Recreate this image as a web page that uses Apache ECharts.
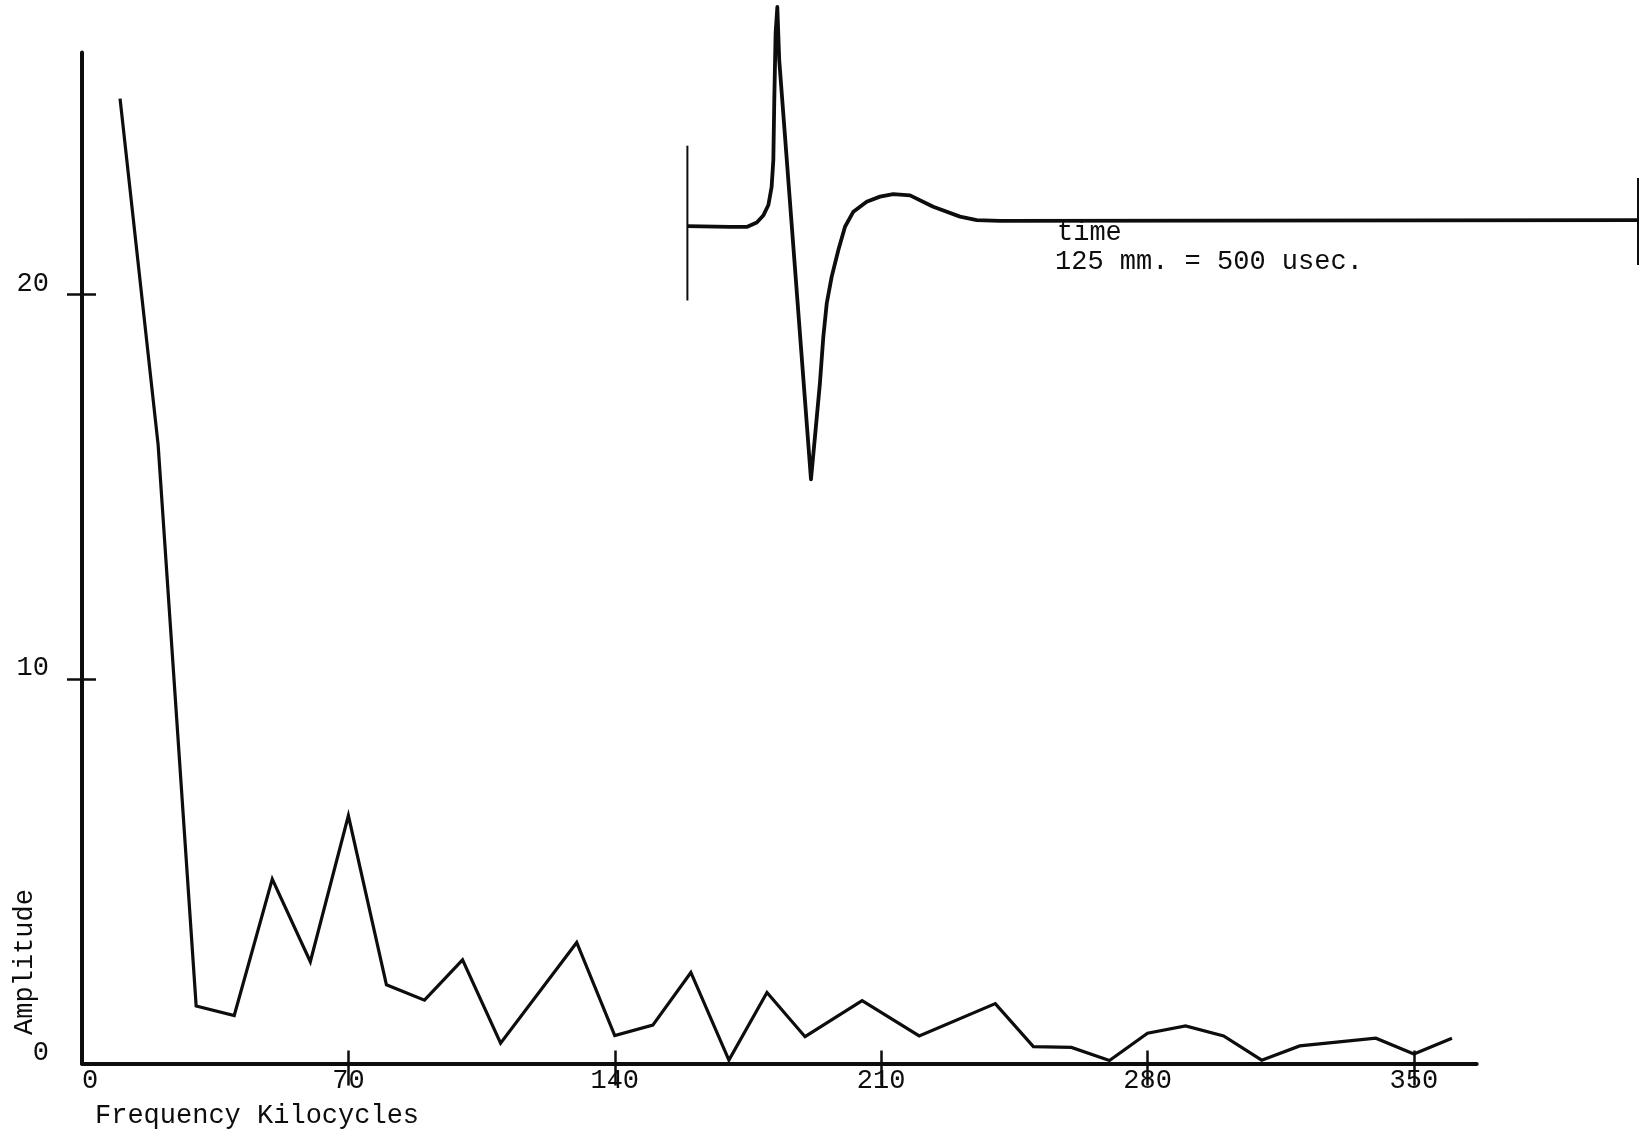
<!DOCTYPE html>
<html>
<head>
<meta charset="utf-8">
<script src="https://cdn.jsdelivr.net/npm/echarts@6/dist/echarts.min.js"></script>
<style>
html,body{margin:0;padding:0;background:#ffffff;}
#chart{width:1648px;height:1143px;}
</style>
</head>
<body>
<div id="chart"></div>
<script>
// Spectrum: frequency (kilocycles) vs amplitude
const freqKc = [10, 20, 30, 40, 50, 60, 70, 80, 90, 100, 110, 130, 140, 150, 160, 170, 180, 190, 205, 220, 240, 250, 260, 270, 280, 290, 300, 310, 320, 340, 350, 360];
const amplitude = [25.1, 16.1, 1.5, 1.25, 4.8, 2.65, 6.45, 2.05, 1.65, 2.7, 0.53, 3.15, 0.73, 1.0, 2.37, 0.09, 1.85, 0.7, 1.64, 0.72, 1.56, 0.44, 0.42, 0.08, 0.79, 0.98, 0.72, 0.09, 0.46, 0.66, 0.25, 0.66];

// Axis ticks / labels
const xTickValues = [70, 140, 210, 280, 350];
const xLabelValues = [0, 70, 140, 210, 280, 350];
const yTickValues = [10, 20];
const yLabelValues = [0, 10, 20];

// Inset: time-domain pulse (125 mm = 500 usec), amplitude in arbitrary units
const pulseTimeUs = [0, 22.4, 31.2, 36.5, 39.9, 42.6, 44.3, 45.2, 45.7, 46.4, 47.3, 48.3, 65.0, 67.1, 69.7, 71.5, 73.3, 75.9, 79.4, 82.9, 87.3, 94.3, 101.3, 108.3, 117.1, 129.3, 143.4, 152.2, 164.4, 500];
const pulseAmp = [-0.019, -0.023, -0.023, -0.002, 0.03, 0.079, 0.163, 0.288, 0.567, 0.879, 1.0, 0.753, -1.197, -0.999, -0.75, -0.533, -0.378, -0.254, -0.13, -0.022, 0.048, 0.094, 0.118, 0.13, 0.124, 0.071, 0.025, 0.009, 0.005, 0.009];

// Time-scale end markers of the inset (time, top, bottom)
const markerTimes = [0, 500];
const markerTops = [0.355, 0.205];
const markerBottoms = [-0.365, -0.2];

const FONT = 'Liberation Mono';
const INK = '#0d0d0d';

const chart = echarts.init(document.getElementById('chart'), null, {renderer: 'canvas'});

const spectrumData = freqKc.map((f, i) => [f, amplitude[i]]);
const pulseData = pulseTimeUs.map((t, i) => [t, pulseAmp[i]]);

const markerSeries = markerTimes.map((t, i) => ({
  type: 'line',
  xAxisIndex: 2,
  yAxisIndex: 2,
  data: [[t, markerTops[i]], [t, markerBottoms[i]]],
  symbol: 'none',
  clip: false,
  silent: true,
  lineStyle: {color: INK, width: 2}
}));

const option = {
  backgroundColor: '#ffffff',
  animation: false,
  grid: [
    {left: 82, right: 171.3, top: 52.5, bottom: 79.4, outerBoundsMode: 'none'},
    {left: 687.4, right: 10, top: 7, bottom: 663, outerBoundsMode: 'none'}
  ],
  xAxis: [
    {
      type: 'value', gridIndex: 0, position: 'bottom', min: 0, max: 366.5,
      axisLine: {show: true, onZero: false, lineStyle: {color: INK, width: 4}},
      axisTick: {show: true, inside: false, length: 22, customValues: xTickValues, lineStyle: {color: INK, width: 2.5}},
      axisLabel: {show: true, customValues: xLabelValues, margin: 4, fontFamily: FONT, fontSize: 27, color: INK, alignMinLabel: 'left'},
      splitLine: {show: false}
    },
    {
      type: 'value', gridIndex: 0, position: 'bottom', min: 0, max: 366.5,
      axisLine: {show: false, onZero: false},
      axisTick: {show: true, inside: true, length: 13, customValues: xTickValues, lineStyle: {color: INK, width: 2.5}},
      axisLabel: {show: false},
      splitLine: {show: false}
    },
    {type: 'value', gridIndex: 1, min: 0, max: 500, show: false}
  ],
  yAxis: [
    {
      type: 'value', gridIndex: 0, position: 'left', min: 0, max: 26.3,
      axisLine: {show: true, onZero: false, lineStyle: {color: INK, width: 4}},
      axisTick: {show: true, inside: false, length: 15, customValues: yTickValues, lineStyle: {color: INK, width: 2.5}},
      axisLabel: {show: true, customValues: yLabelValues, margin: 33, fontFamily: FONT, fontSize: 27, color: INK, verticalAlign: 'bottom', lineHeight: 22},
      splitLine: {show: false}
    },
    {
      type: 'value', gridIndex: 0, position: 'left', min: 0, max: 26.3,
      axisLine: {show: false, onZero: false},
      axisTick: {show: true, inside: true, length: 14, customValues: yTickValues, lineStyle: {color: INK, width: 2.5}},
      axisLabel: {show: false},
      splitLine: {show: false}
    },
    {type: 'value', gridIndex: 1, min: -1.2, max: 1.0, show: false}
  ],
  series: [
    {
      type: 'line', xAxisIndex: 0, yAxisIndex: 0,
      data: spectrumData,
      symbol: 'none', clip: false, silent: true,
      lineStyle: {color: INK, width: 3.2, join: 'miter'}
    },
    {
      type: 'line', xAxisIndex: 2, yAxisIndex: 2,
      data: pulseData,
      symbol: 'none', clip: false, silent: true,
      smooth: false,
      lineStyle: {color: INK, width: 3.8, join: 'round'}
    }
  ].concat(markerSeries),
  graphic: [
    {
      type: 'text', left: 1057, top: 219, silent: true,
      style: {text: 'time', fontFamily: FONT, fontSize: 27, fill: INK}
    },
    {
      type: 'text', left: 1055, top: 248, silent: true,
      style: {text: '125 mm. = 500 usec.', fontFamily: FONT, fontSize: 27, fill: INK}
    },
    {
      type: 'text', left: 95, top: 1102, silent: true,
      style: {text: 'Frequency Kilocycles', fontFamily: FONT, fontSize: 27, fill: INK}
    },
    {
      type: 'text', x: 25, y: 962, rotation: Math.PI / 2, silent: true,
      style: {text: 'Amplitude', fontFamily: FONT, fontSize: 27, fill: INK, align: 'center', verticalAlign: 'middle'}
    }
  ]
};

chart.setOption(option);
</script>
</body>
</html>
